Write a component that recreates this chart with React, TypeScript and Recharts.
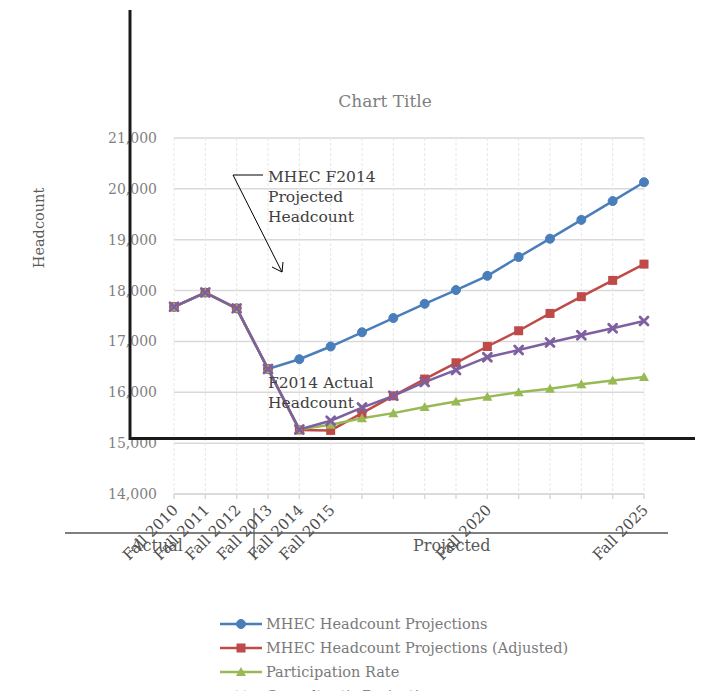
import React from 'react';
import { LineChart, Line, XAxis, YAxis, CartesianGrid, Legend } from 'recharts';

const categories = ['Fall 2010','Fall 2011','Fall 2012','Fall 2013','Fall 2014','Fall 2015','Fall 2016','Fall 2017','Fall 2018','Fall 2019','Fall 2020','Fall 2021','Fall 2022','Fall 2023','Fall 2024','Fall 2025'];
const tickLabels = ['Fall 2010','Fall 2011','Fall 2012','Fall 2013','Fall 2014','Fall 2015','','','','','Fall 2020','','','','','Fall 2025'];
const mhec = [17680,17960,17650,16460,16650,16900,17180,17460,17740,18010,18290,18660,19020,19390,19760,20130];
const mhecAdjusted = [17680,17960,17650,16460,15260,15250,15590,15930,16260,16580,16900,17210,17550,17880,18200,18520];
const participation = [17680,17960,17650,16460,15270,15360,15490,15590,15710,15820,15910,16000,16070,16160,16230,16300];
const consultant = [17680,17960,17650,16460,15270,15440,15700,15930,16200,16440,16690,16830,16980,17120,17260,17400];
const yTicks = [14000,15000,16000,17000,18000,19000,20000,21000];
const seriesNames = ['MHEC Headcount Projections','MHEC Headcount Projections (Adjusted)','Participation Rate',"Consultant's Projection"];

const data = categories.map((c, i) => ({
  cat: c,
  mhec: mhec[i],
  adj: mhecAdjusted[i],
  part: participation[i],
  cons: consultant[i],
}));

const FONT = '"DejaVu Serif", serif';
const BLUE = '#4a7ebb';
const RED = '#be4b48';
const GREEN = '#98b954';
const PURPLE = '#7d60a0';

const Marker = ({ kind, cx, cy, color }: any) => {
  if (cx == null || cy == null) return null;
  if (kind === 'circle') return <circle cx={cx} cy={cy} r={4.5} fill={color} stroke={color} />;
  if (kind === 'square') return <rect x={cx - 4.5} y={cy - 4.5} width={9} height={9} fill={color} />;
  if (kind === 'triangle') return <polygon points={`${cx},${cy - 5} ${cx + 5},${cy + 4} ${cx - 5},${cy + 4}`} fill={color} />;
  return (
    <g stroke={color} strokeWidth={2.8} strokeLinecap="round">
      <line x1={cx - 4} y1={cy - 4} x2={cx + 4} y2={cy + 4} />
      <line x1={cx - 4} y1={cy + 4} x2={cx + 4} y2={cy - 4} />
    </g>
  );
};

const makeDot = (kind: string, color: string) => (props: any) => (
  <Marker key={`${kind}-${props.index}`} kind={kind} cx={props.cx} cy={props.cy} color={color} />
);

const seriesStyle = [
  { key: 'mhec', kind: 'circle', color: BLUE },
  { key: 'adj', kind: 'square', color: RED },
  { key: 'part', kind: 'triangle', color: GREEN },
  { key: 'cons', kind: 'x', color: PURPLE },
];

const XTick = (props: any) => {
  const { x, y, payload } = props;
  const label = tickLabels[payload.index] ?? '';
  if (!label) return null;
  const ax = x + 5;
  const ay = y + 10;
  return (
    <text x={ax} y={ay} transform={`rotate(-45 ${ax} ${ay})`} textAnchor="end" fontFamily={FONT} fontSize={15} fill="#4d4d4d">
      {label}
    </text>
  );
};

const LegendContent = () => (
  <div style={{ fontFamily: FONT, fontSize: 14.5, color: '#7a7a7a' }}>
    {seriesStyle.map((s, i) => (
      <div key={s.key} style={{ display: 'flex', alignItems: 'center', height: 24 }}>
        <svg width={46} height={14} style={{ display: 'block' }}>
          <line x1={0} y1={7} x2={42} y2={7} stroke={s.color} strokeWidth={2.5} />
          <Marker kind={s.kind} cx={21} cy={7} color={s.color} />
        </svg>
        <span style={{ whiteSpace: 'nowrap' }}>{seriesNames[i]}</span>
      </div>
    ))}
  </div>
);

export default function App() {
  return (
    <div style={{ position: 'absolute', left: 0, top: 0, width: 710, height: 691, overflow: 'hidden', background: '#fff' }}>
      <LineChart width={710} height={691} data={data} margin={{ top: 138, right: 66, bottom: 137, left: 0 }}>
        <CartesianGrid horizontal={true} vertical={false} stroke="#d9d9d9" strokeWidth={1.5} />
        <CartesianGrid horizontal={false} vertical={true} stroke="#e6e6e6" strokeDasharray="3 2" />
        <XAxis
          dataKey="cat"
          scale="point"
          padding={{ left: 0, right: 0 }}
          interval={0}
          height={60}
          tick={<XTick />}
          tickSize={5}
          tickMargin={2}
          axisLine={{ stroke: '#d9d9d9', strokeWidth: 1.5 }}
          tickLine={{ stroke: '#d9d9d9', strokeWidth: 1.5 }}
        />
        <YAxis
          width={174}
          domain={[14000, 21000]}
          ticks={yTicks}
          type="number"
          interval={0}
          axisLine={false}
          tickLine={false}
          tickSize={0}
          tickMargin={17}
          tickFormatter={(v: number) => v.toLocaleString('en-US')}
          tick={{ fontFamily: FONT, fontSize: 14, fill: '#7f7f7f' }}
        />
        {seriesStyle.map((s, i) => (
          <Line
            key={s.key}
            type="linear"
            dataKey={s.key}
            name={seriesNames[i]}
            stroke={s.color}
            strokeWidth={2.5}
            dot={makeDot(s.kind, s.color)}
            activeDot={false}
            isAnimationActive={false}
          />
        ))}
        <Legend
          layout="vertical"
          align="center"
          verticalAlign="middle"
          content={<LegendContent />}
          wrapperStyle={{ left: 220, top: 612, width: 420 }}
        />
      </LineChart>
      <svg width={710} height={691} style={{ position: 'absolute', left: 0, top: 0, pointerEvents: 'none' }}>
        <text x={385} y={107} textAnchor="middle" fontFamily={FONT} fontSize={17} fill="#7f7f7f">Chart Title</text>
        <text x={0} y={0} transform="translate(44 228) rotate(-90)" textAnchor="middle" fontFamily={FONT} fontSize={14.5} fill="#595959">Headcount</text>
        <g fontFamily={FONT} fontSize={15.5} fill="#404040">
          <text x={268} y={182}>MHEC F2014</text>
          <text x={268} y={202}>Projected</text>
          <text x={268} y={222}>Headcount</text>
          <text x={268} y={388}>F2014 Actual</text>
          <text x={268} y={408}>Headcount</text>
        </g>
        <g stroke="#000" strokeWidth={1} fill="none">
          <polyline points="263,175 233,175 282,272" />
          <polyline points="272,267 282,272 283,262" />
        </g>
        <line x1={130} y1={10} x2={130} y2={440} stroke="#1a1a1a" strokeWidth={3} />
        <line x1={129} y1={438.5} x2={695} y2={438.5} stroke="#1a1a1a" strokeWidth={3} />
        <line x1={65} y1={533} x2={668} y2={533} stroke="#555" strokeWidth={1.5} />
        <line x1={254} y1={508} x2={254} y2={557} stroke="#555" strokeWidth={1.2} />
        <g fontFamily={FONT} fontSize={16} fill="#595959">
          <text x={131} y={551}>Actual</text>
          <text x={413} y={551}>Projected</text>
        </g>
      </svg>
    </div>
  );
}
